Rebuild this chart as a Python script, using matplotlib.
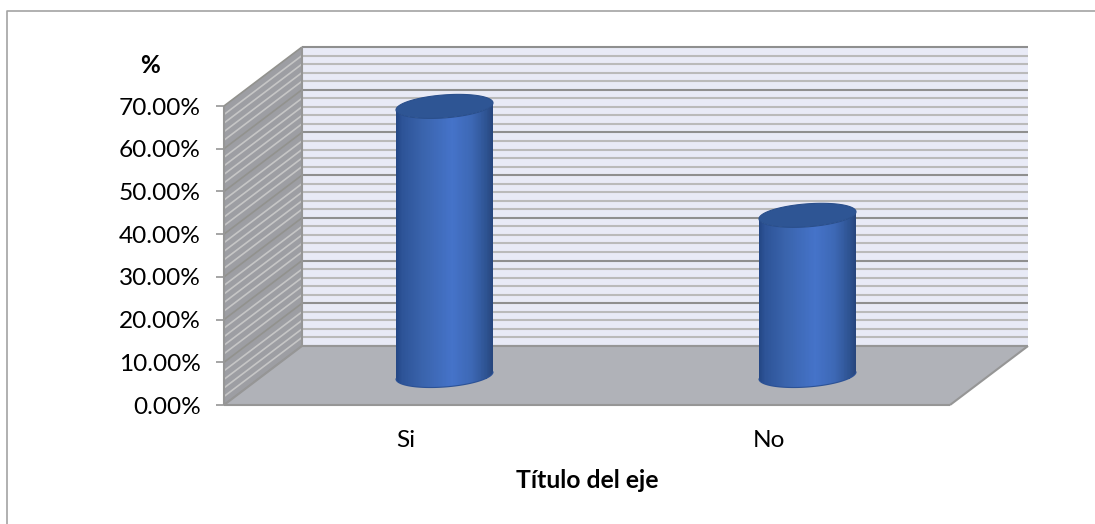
import numpy as np
import matplotlib
matplotlib.use("Agg")
import matplotlib.pyplot as plt
from matplotlib.colors import LinearSegmentedColormap
from matplotlib.lines import Line2D
from matplotlib.patches import Polygon

categories = ["Si", "No"]
values = [63.0, 37.5]
y_ticks = [0, 10, 20, 30, 40, 50, 60, 70]
y_tick_labels = ["0.00%", "10.00%", "20.00%", "30.00%", "40.00%", "50.00%", "60.00%", "70.00%"]
minor_step = 2

W, H = 1095, 524
FONT = "Lato"
DEPTH_X, DEPTH_Y = 78, 59   # pixel offset of the back wall from the front plane
BAR_HALF = 48.5             # cylinder half width, px
BAR_MINOR = 11.5            # cylinder cap half height, px
BAR_TILT = 3.5              # shear of the cap ellipse, px

fig = plt.figure(figsize=(W / 100, H / 100), dpi=100, facecolor="white")
ax = fig.add_axes([224 / W, (H - 405) / H, 726 / W, 299 / H])
ax.set_xlim(0, len(categories))
ax.set_ylim(0, y_ticks[-1])
ax.patch.set_alpha(0)
for s in ax.spines.values():
    s.set_visible(False)

xspan, ytop = len(categories), y_ticks[-1]


def shifted(x, y, f):
    """Move data coordinates back along the depth axis by fraction f."""
    px = ax.transData.transform(np.column_stack([x, y]))
    px = px + np.array([DEPTH_X * f, DEPTH_Y * f])
    return ax.transData.inverted().transform(px)


# chart frame: only the left and top edges fall inside the image
frame_x = [7 / W, 7 / W, 1]
frame_y = [0, (H - 11) / H, (H - 11) / H]
fig.add_artist(Line2D(frame_x, frame_y, transform=fig.transFigure, color="#a3a3a3", lw=1.2, zorder=-5))

# back wall, side wall, floor
corners = np.array([[0, 0], [xspan, 0], [xspan, ytop], [0, ytop]], float)
ax.add_patch(Polygon(shifted(corners[:, 0], corners[:, 1], 1), fc="#e8eaf6", ec="none", clip_on=False, zorder=1))
side = np.vstack([shifted([0, 0], [0, ytop], 0), shifted([0, 0], [ytop, 0], 1)])
ax.add_patch(Polygon(side, fc="#9d9ea3", ec="none", clip_on=False, zorder=1))
floor = np.vstack([shifted([0, xspan], [0, 0], 0), shifted([xspan, 0], [0, 0], 1)])
ax.add_patch(Polygon(floor, fc="#b0b2b8", ec="none", clip_on=False, zorder=2))

# gridlines on the back and side walls
for v in np.arange(0, ytop + 0.1, minor_step):
    major = v % 10 == 0
    wall_col = "#8f8f8f" if major else "#bababa"
    side_col = "#92928e" if major else "#c6c6c6"
    p = shifted([0, xspan], [v, v], 1)
    ax.plot(p[:, 0], p[:, 1], color=wall_col, lw=1.5, clip_on=False, zorder=1.5, solid_capstyle="butt")
    p = np.vstack([shifted([0], [v], 0), shifted([0], [v], 1)])
    ax.plot(p[:, 0], p[:, 1], color=side_col, lw=1.2, clip_on=False, zorder=1.5, solid_capstyle="butt")

# edges of the walls and floor
edge = "#969696"
for (x0, y0, f0), (x1, y1, f1) in [((0, 0, 0), (0, ytop, 0)),
                                   ((0, 0, 0), (xspan, 0, 0)),
                                   ((xspan, 0, 0), (xspan, 0, 1)),
                                   ((0, 0, 0), (0, 0, 1)),
                                   ((0, 0, 1), (0, ytop, 1)),
                                   ((0, 0, 1), (xspan, 0, 1))]:
    p = np.vstack([shifted([x0], [y0], f0), shifted([x1], [y1], f1)])
    ax.plot(p[:, 0], p[:, 1], color=edge, lw=1.5, clip_on=False, zorder=2.5, solid_capstyle="butt")

# cylinders
body_cmap = LinearSegmentedColormap.from_list("cyl", [
    (0.0, "#234684"), (0.06, "#2d5397"), (0.28, "#3a64ad"), (0.58, "#4573c9"),
    (0.78, "#3d68b5"), (0.93, "#2e5392"), (1.0, "#27457c")])
inv = ax.transData.inverted()
for i, val in enumerate(values):
    centre = shifted([i + 0.5], [0], 0.5)[0]
    cx_px, base_px = ax.transData.transform(centre)
    top_px = ax.transData.transform([i + 0.5, val])[1] + DEPTH_Y * 0.5
    t = np.linspace(np.pi, 2 * np.pi, 121)
    xs = cx_px + BAR_HALF * np.cos(t)
    curve = BAR_MINOR * np.sin(t) + BAR_TILT * np.cos(t)
    X = np.vstack([xs, xs])
    Y = np.vstack([base_px + curve, top_px + curve])
    shade = ((xs[:-1] + xs[1:]) / 2 - xs[0]) / (xs[-1] - xs[0])
    pts = inv.transform(np.column_stack([X.ravel(), Y.ravel()]))
    Xd, Yd = pts[:, 0].reshape(X.shape), pts[:, 1].reshape(Y.shape)
    ax.pcolormesh(Xd, Yd, shade[None, :], cmap=body_cmap, vmin=0, vmax=1, shading="flat",
                  clip_on=False, zorder=3, antialiased=False, linewidth=0)
    # top cap
    tt = np.linspace(0, 2 * np.pi, 200)
    cap = np.column_stack([cx_px + BAR_HALF * np.cos(tt),
                           top_px + BAR_MINOR * np.sin(tt) + BAR_TILT * np.cos(tt)])
    ax.add_patch(Polygon(inv.transform(cap), fc="#2e5594", ec="#2a4f8c", lw=0.8, clip_on=False, zorder=4))
    low = np.column_stack([xs, base_px + curve])
    ax.plot(*inv.transform(low).T, color="#2c5296", lw=0.8, clip_on=False, zorder=3.5)

# axes text and ticks
ax.set_xticks([i + 0.5 for i in range(len(categories))], categories, fontsize=17.6, family=FONT, color="black")
ax.tick_params(axis="x", length=0, pad=18)
ax.set_yticks(y_ticks, y_tick_labels, fontsize=17.6, family=FONT, color="black")
ax.tick_params(axis="y", length=5.8, width=1.2, color=edge, pad=11)
fig.text(150 / W, 1 - 66 / H, "%", ha="center", va="center", fontsize=17.5, fontweight="bold", family=FONT)
fig.text(587 / W, 1 - 480 / H, "Título del eje", ha="center", va="center", fontsize=17.8, fontweight="bold", family=FONT)

fig.savefig("out.png", dpi=100)
